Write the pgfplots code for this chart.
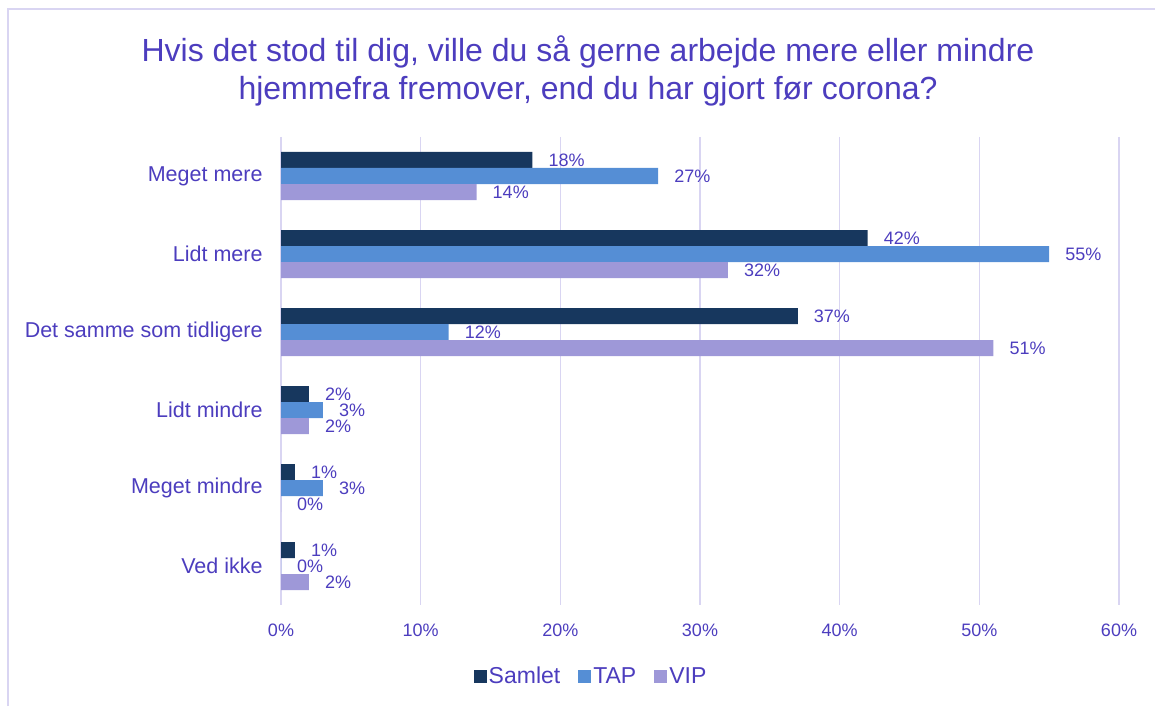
\documentclass[border=0pt]{standalone}
\usepackage{fontspec}
\setmainfont{Liberation Sans}
\usepackage{pgfplots}
\pgfplotsset{compat=1.18}

\definecolor{samlet}{HTML}{17375E}
\definecolor{tap}{HTML}{558ED5}
\definecolor{vip}{HTML}{9E98D8}
\definecolor{txt}{HTML}{4C3DBE}
\definecolor{gridc}{HTML}{D9D5F2}

\begin{document}
\begin{tikzpicture}
\useasboundingbox (0,0) rectangle (1155pt,706pt);
\draw[gridc, line width=1.5pt] (8pt,0) -- (8pt,697pt) -- (1155pt,697pt);
\node[text=txt, align=center, font=\fontsize{32}{38}\selectfont] at (588pt,635pt)
  {Hvis det stod til dig, ville du så gerne arbejde mere eller mindre\\hjemmefra fremover, end du har gjort før corona?};
\begin{axis}[
  at={(281pt,101pt)}, anchor=south west,
  scale only axis, width=838pt, height=468pt,
  xbar, bar width=16pt,
  xmin=0, xmax=60, ymin=-0.5, ymax=5.5, y dir=reverse,
  xtick={0,10,20,30,40,50,60},
  xticklabels={0\%,10\%,20\%,30\%,40\%,50\%,60\%},
  ytick={0,1,2,3,4,5},
  yticklabels={Meget mere,Lidt mere,Det samme som tidligere,Lidt mindre,Meget mindre,Ved ikke},
  axis line style={draw=none},
  major tick style={draw=none},
  xmajorgrids, grid style={gridc, line width=1.3pt},
  xticklabel style={text=txt, font=\fontsize{18}{20}\selectfont, inner sep=0pt, yshift=-19pt},
  yticklabel style={text=txt, font=\fontsize{21.5}{24}\selectfont, inner sep=0pt, xshift=-14pt},
  /pgf/number format/assume math mode=true,
  point meta=x,
  nodes near coords={\pgfmathprintnumber{\pgfplotspointmeta}\%},
  nodes near coords style={anchor=west, inner sep=0pt, xshift=16pt, text=txt, font=\fontsize{18}{20}\selectfont},
  legend style={at={(0.37,-0.1517)}, anchor=center, draw=none, legend columns=3,
    font=\fontsize{23}{25}\selectfont, text=txt,
    /tikz/every even column/.append style={column sep=16pt}},
  legend image code/.code={\fill[#1] (0pt,-6.5pt) rectangle (13pt,6.5pt);},
]
\addplot[fill=samlet, draw=none, bar shift=16pt] coordinates {(18,0) (42,1) (37,2) (2,3) (1,4) (1,5)};
\addplot[fill=tap, draw=none, bar shift=0pt] coordinates {(27,0) (55,1) (12,2) (3,3) (3,4) (0,5)};
\addplot[fill=vip, draw=none, bar shift=-16pt] coordinates {(14,0) (32,1) (51,2) (2,3) (0,4) (2,5)};
\legend{Samlet,TAP,VIP}
\end{axis}
\end{tikzpicture}
\end{document}
